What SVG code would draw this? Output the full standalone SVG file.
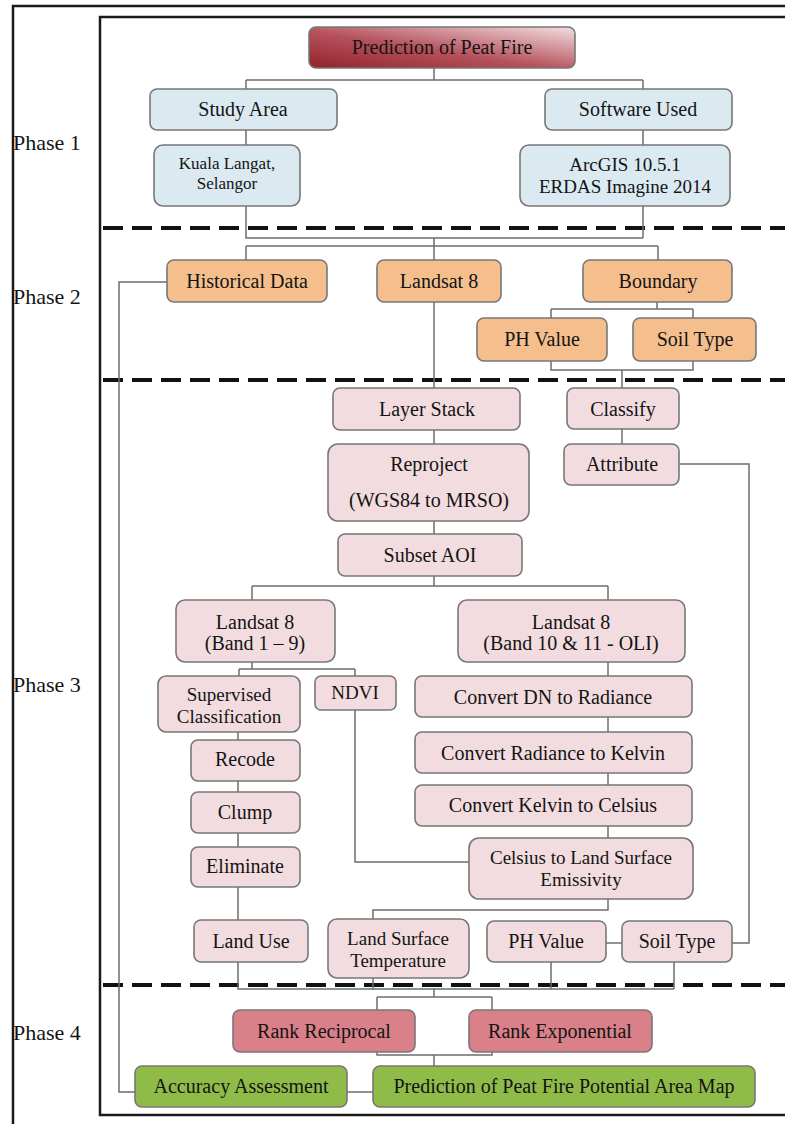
<svg xmlns="http://www.w3.org/2000/svg" width="785" height="1124" viewBox="0 0 785 1124">
<defs>
<linearGradient id="gTitle" x1="0" y1="1" x2="1" y2="0">
<stop offset="0" stop-color="#93222c"/>
<stop offset="0.45" stop-color="#b5525c"/>
<stop offset="1" stop-color="#f3dfe2"/>
</linearGradient>
<style>
text{font-family:"Liberation Serif","Times New Roman",serif;fill:#141414;text-anchor:middle;font-size:20px}
.ph{text-anchor:start;font-size:22px}
.s17{font-size:17px}
.s19{font-size:19px}
rect.n{stroke:#777777;stroke-width:1.6}
.blue{fill:#dbe9f1}
.org{fill:#f5bf8d}
.pink{fill:#f2dcdf}
.rank{fill:#d98089}
.green{fill:#8fbb48}
.title{fill:url(#gTitle)}
.frame{fill:none;stroke:#1a1a1a;stroke-width:2.5}
.dash{stroke:#111;stroke-width:4;stroke-dasharray:20 9;fill:none}
#connectors path{fill:none;stroke:#6e6e6e;stroke-width:1.5}
</style>
</defs>
<rect width="785" height="1124" fill="#ffffff"/>
<g id="frames">
<rect class="frame" x="13" y="6" width="800" height="1140"/>
<rect class="frame" x="100" y="17" width="700" height="1098"/>
<path class="dash" d="M103 228 H785"/>
<path class="dash" d="M103 380 H785"/>
<path class="dash" d="M103 985 H785"/>
</g>
<g id="phases">
<text class="ph" x="13" y="150">Phase 1</text>
<text class="ph" x="13" y="304">Phase 2</text>
<text class="ph" x="13" y="692">Phase 3</text>
<text class="ph" x="13" y="1040">Phase 4</text>
</g>
<g id="connectors">
<path d="M434 68 V80 M246 80 H643 M246 80 V89 M643 80 V89"/>
<path d="M246 130 V145 M643 130 V145"/>
<path d="M246 206 V238 H643 M643 206 V238"/>
<path d="M434 238 V246 M246 246 H658 M246 246 V260 M434 246 V260 M658 246 V260"/>
<path d="M167 282 H119 V1092 H135"/>
<path d="M657 302 V309 M551 309 H693 M551 309 V318 M693 309 V318"/>
<path d="M551 361 V370 H693 V361 M622 370 V388"/>
<path d="M434 302 V388"/>
<path d="M434 430 V444 M434 521 V534 M434 576 V586 M252 586 H608 M252 586 V600 M608 586 V600"/>
<path d="M622 429 V444"/>
<path d="M679 464 H749 V943 H732"/>
<path d="M252 662 V669 M239 669 H355 M239 669 V676 M355 669 V676"/>
<path d="M355 710 V862 H469"/>
<path d="M608 662 V676 M608 717 V732 M608 773 V785 M608 826 V838"/>
<path d="M608 899 V910 H373 V919"/>
<path d="M238 732 V740 M238 781 V792 M238 833 V847 M238 887 V920"/>
<path d="M238 962 V989 H674 M373 978 V989 M551 962 V989 M674 962 V989"/>
<path d="M606 943 H622"/>
<path d="M434 989 V997 M377 997 H492 M377 997 V1010 M492 997 V1010"/>
<path d="M377 1052 V1055 H492 V1052 M434 1055 V1066"/>
<path d="M347 1092 H373"/>
</g>
<g id="n-title"><rect class="n title" x="309" y="27" width="266" height="41" rx="7"/><text x="442" y="54">Prediction of Peat Fire</text></g>
<g id="n-study"><rect class="n blue" x="150" y="89" width="187" height="41" rx="7"/><text x="243" y="116">Study Area</text></g>
<g id="n-software"><rect class="n blue" x="545" y="89" width="187" height="41" rx="7"/><text x="638" y="116">Software Used</text></g>
<g id="n-kuala"><rect class="n blue" x="154" y="145" width="146" height="61" rx="9"/><text class="s17" x="227" y="169">Kuala Langat,</text><text class="s17" x="227" y="189">Selangor</text></g>
<g id="n-arcgis"><rect class="n blue" x="520" y="145" width="210" height="61" rx="9"/><text class="s19" x="625" y="171">ArcGIS 10.5.1</text><text class="s19" x="625" y="193">ERDAS Imagine 2014</text></g>
<g id="n-historical"><rect class="n org" x="167" y="260" width="160" height="42" rx="7"/><text x="247" y="288">Historical Data</text></g>
<g id="n-landsat"><rect class="n org" x="377" y="260" width="124" height="42" rx="7"/><text x="439" y="288">Landsat 8</text></g>
<g id="n-boundary"><rect class="n org" x="583" y="260" width="149" height="42" rx="7"/><text x="658" y="288">Boundary</text></g>
<g id="n-ph2"><rect class="n org" x="477" y="318" width="130" height="43" rx="7"/><text x="542" y="346">PH Value</text></g>
<g id="n-soil2"><rect class="n org" x="633" y="318" width="123" height="43" rx="7"/><text x="695" y="346">Soil Type</text></g>
<g id="n-layer"><rect class="n pink" x="333" y="388" width="187" height="42" rx="7"/><text x="427" y="416">Layer Stack</text></g>
<g id="n-reproject"><rect class="n pink" x="328" y="444" width="201" height="77" rx="10"/><text x="429" y="471">Reproject</text><text x="429" y="507">(WGS84 to MRSO)</text></g>
<g id="n-subset"><rect class="n pink" x="338" y="534" width="184" height="42" rx="7"/><text x="430" y="562">Subset AOI</text></g>
<g id="n-classify"><rect class="n pink" x="567" y="388" width="112" height="41" rx="7"/><text x="623" y="416">Classify</text></g>
<g id="n-attribute"><rect class="n pink" x="564" y="444" width="115" height="41" rx="7"/><text x="622" y="471">Attribute</text></g>
<g id="n-ls19"><rect class="n pink" x="176" y="600" width="159" height="62" rx="9"/><text x="255" y="629">Landsat 8</text><text x="255" y="650">(Band 1 – 9)</text></g>
<g id="n-ls1011"><rect class="n pink" x="458" y="600" width="227" height="62" rx="9"/><text x="571" y="629">Landsat 8</text><text x="571" y="650">(Band 10 &amp; 11 - OLI)</text></g>
<g id="n-supervised"><rect class="n pink" x="158" y="676" width="142" height="56" rx="8"/><text class="s19" x="229" y="701">Supervised</text><text class="s19" x="229" y="723">Classification</text></g>
<g id="n-ndvi"><rect class="n pink" x="315" y="676" width="81" height="34" rx="6"/><text class="s19" x="355" y="699">NDVI</text></g>
<g id="n-dn"><rect class="n pink" x="415" y="676" width="277" height="41" rx="7"/><text x="553" y="704">Convert DN to Radiance</text></g>
<g id="n-kelvin"><rect class="n pink" x="415" y="732" width="277" height="41" rx="7"/><text x="553" y="760">Convert Radiance to Kelvin</text></g>
<g id="n-celsius"><rect class="n pink" x="415" y="785" width="277" height="41" rx="7"/><text x="553" y="812">Convert Kelvin to Celsius</text></g>
<g id="n-lse"><rect class="n pink" x="469" y="838" width="224" height="61" rx="10"/><text class="s19" x="581" y="864">Celsius to Land Surface</text><text class="s19" x="581" y="886">Emissivity</text></g>
<g id="n-recode"><rect class="n pink" x="191" y="740" width="109" height="41" rx="7"/><text x="245" y="766">Recode</text></g>
<g id="n-clump"><rect class="n pink" x="191" y="792" width="109" height="41" rx="7"/><text x="245" y="819">Clump</text></g>
<g id="n-eliminate"><rect class="n pink" x="191" y="847" width="109" height="40" rx="7"/><text x="245" y="873">Eliminate</text></g>
<g id="n-landuse"><rect class="n pink" x="194" y="920" width="114" height="42" rx="7"/><text x="251" y="948">Land Use</text></g>
<g id="n-lst"><rect class="n pink" x="328" y="919" width="141" height="59" rx="9"/><text class="s19" x="398" y="945">Land Surface</text><text class="s19" x="398" y="967">Temperature</text></g>
<g id="n-ph3"><rect class="n pink" x="487" y="921" width="119" height="41" rx="7"/><text x="546" y="948">PH Value</text></g>
<g id="n-soil3"><rect class="n pink" x="622" y="921" width="110" height="41" rx="7"/><text x="677" y="948">Soil Type</text></g>
<g id="n-reciprocal"><rect class="n rank" x="233" y="1010" width="182" height="42" rx="7"/><text x="324" y="1038">Rank Reciprocal</text></g>
<g id="n-exponential"><rect class="n rank" x="469" y="1010" width="183" height="42" rx="7"/><text x="560" y="1038">Rank Exponential</text></g>
<g id="n-accuracy"><rect class="n green" x="135" y="1066" width="212" height="41" rx="7"/><text x="241" y="1093">Accuracy Assessment</text></g>
<g id="n-map"><rect class="n green" x="373" y="1066" width="382" height="41" rx="7"/><text x="564" y="1093">Prediction of Peat Fire Potential Area Map</text></g>
</svg>
